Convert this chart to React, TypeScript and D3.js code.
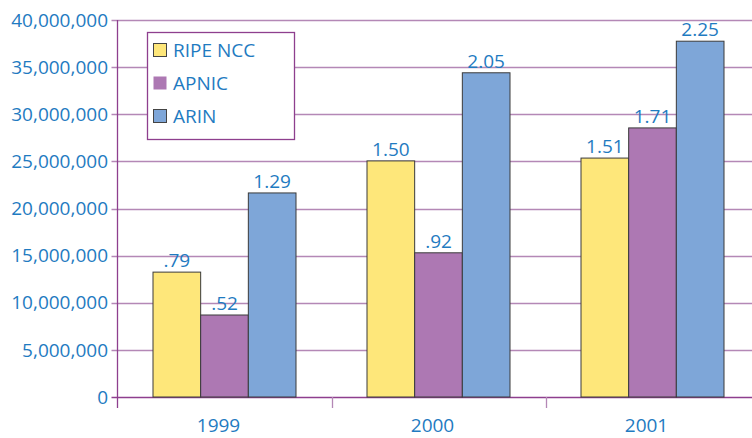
import React, { useRef, useEffect } from 'react';
import * as d3 from 'd3';

const years = ['1999', '2000', '2001'];
const seriesNames = ['RIPE NCC', 'APNIC', 'ARIN'];
const ripeValues = [13250000, 25050000, 25350000];
const apnicValues = [8700000, 15300000, 28550000];
const arinValues = [21650000, 34400000, 37750000];
const ripeLabels = ['.79', '1.50', '1.51'];
const apnicLabels = ['.52', '.92', '1.71'];
const arinLabels = ['1.29', '2.05', '2.25'];
const yTicks = [0, 5000000, 10000000, 15000000, 20000000, 25000000, 30000000, 35000000, 40000000];

const colors = ['#fee77a', '#ad78b3', '#7ea6d8'];
const textColor = '#1f7bc1';
const font = '"Open Sans", "Noto Sans", sans-serif';

const W = 752;
const H = 438;

const App: React.FC = () => {
    const ref = useRef<SVGSVGElement | null>(null);

    useEffect(() => {
        if (!ref.current) return;
        const svg = d3.select(ref.current);
        svg.selectAll('*').remove();

        const left = 117.5;
        const top = 20;
        const bottom = 397;

        const x = d3.scaleBand<string>().domain(years).range([left, left + 3 * 214]).paddingInner(0).paddingOuter(0);
        const x1 = d3.scaleBand<string>().domain(seriesNames).range([0, 143]);
        const y = d3.scaleLinear().domain([0, 40000000]).range([bottom, top]);

        const allValues = [ripeValues, apnicValues, arinValues];
        const allLabels = [ripeLabels, apnicLabels, arinLabels];

        // gridlines
        svg.append('g')
            .selectAll('line')
            .data(yTicks)
            .join('line')
            .attr('x1', left - 6)
            .attr('x2', W)
            .attr('y1', d => Math.round(y(d)) + 0.5)
            .attr('y2', d => Math.round(y(d)) + 0.5)
            .attr('stroke', d => d === 0 ? '#8e3f8e' : '#b488b6')
            .attr('stroke-width', 1.3);

        // y labels
        svg.append('g')
            .selectAll('text')
            .data(yTicks)
            .join('text')
            .attr('x', 108)
            .attr('y', d => y(d))
            .attr('dy', '0.35em')
            .attr('text-anchor', 'end')
            .attr('font-family', font)
            .attr('font-size', '19px')
            .attr('fill', textColor)
            .text(d => d3.format(',')(d));

        // bars
        const groups = svg.append('g')
            .selectAll('g')
            .data(years)
            .join('g')
            .attr('transform', d => `translate(${(x(d) as number) + (x.bandwidth() - 143) / 2},0)`);

        groups.selectAll('rect')
            .data(d => seriesNames.map((s, j) => ({ s, j, v: allValues[j][years.indexOf(d)] })))
            .join('rect')
            .attr('x', d => x1(d.s) as number)
            .attr('width', x1.bandwidth())
            .attr('y', d => y(d.v))
            .attr('height', d => bottom - y(d.v))
            .attr('fill', d => colors[d.j])
            .attr('stroke', '#3a3a3a')
            .attr('stroke-width', 1);

        groups.selectAll('text')
            .data(d => seriesNames.map((s, j) => ({ s, j, v: allValues[j][years.indexOf(d)], l: allLabels[j][years.indexOf(d)] })))
            .join('text')
            .attr('x', d => (x1(d.s) as number) + x1.bandwidth() / 2)
            .attr('y', d => y(d.v) - 5)
            .attr('text-anchor', 'middle')
            .attr('font-family', font)
            .attr('font-size', '19px')
            .attr('fill', textColor)
            .text(d => d.l);

        // axes lines
        svg.append('line')
            .attr('x1', left).attr('x2', left)
            .attr('y1', top).attr('y2', bottom + 11)
            .attr('stroke', '#8e3f8e').attr('stroke-width', 1.3);

        svg.append('g')
            .selectAll('line')
            .data(years.slice(1))
            .join('line')
            .attr('x1', d => Math.round(x(d) as number) + 0.5)
            .attr('x2', d => Math.round(x(d) as number) + 0.5)
            .attr('y1', bottom)
            .attr('y2', bottom + 11)
            .attr('stroke', '#b488b6')
            .attr('stroke-width', 1.3);

        // x labels
        svg.append('g')
            .selectAll('text')
            .data(years)
            .join('text')
            .attr('x', d => (x(d) as number) + x.bandwidth() / 2 - 6)
            .attr('y', 432)
            .attr('text-anchor', 'middle')
            .attr('font-family', font)
            .attr('font-size', '19px')
            .attr('fill', textColor)
            .text(d => d);

        // legend
        const legend = svg.append('g');
        legend.append('rect')
            .attr('x', 147.5).attr('y', 32.5)
            .attr('width', 147).attr('height', 107)
            .attr('fill', '#fff')
            .attr('stroke', '#8e3f8e').attr('stroke-width', 1.3);

        const rows = legend.selectAll('g.row')
            .data(seriesNames)
            .join('g')
            .attr('class', 'row')
            .attr('transform', (d, i) => `translate(153,${50 + i * 33})`);

        rows.append('rect')
            .attr('x', 0.5).attr('y', -6.5)
            .attr('width', 13).attr('height', 13)
            .attr('fill', (d, i) => colors[i])
            .attr('stroke', (d, i) => i === 1 ? 'none' : '#444')
            .attr('stroke-width', 1);

        rows.append('text')
            .attr('x', 20)
            .attr('y', 0)
            .attr('dy', '0.36em')
            .attr('font-family', font)
            .attr('font-size', '19px')
            .attr('fill', textColor)
            .text(d => d);

        return () => {
            // eslint-disable-next-line react-hooks/exhaustive-deps
            d3.select(ref.current).selectAll('*').remove();
        };
    }, []);

    return <svg ref={ref} width={W} height={H} style={{ position: 'absolute', left: 0, top: 0 }}></svg>;
};

export default App;
